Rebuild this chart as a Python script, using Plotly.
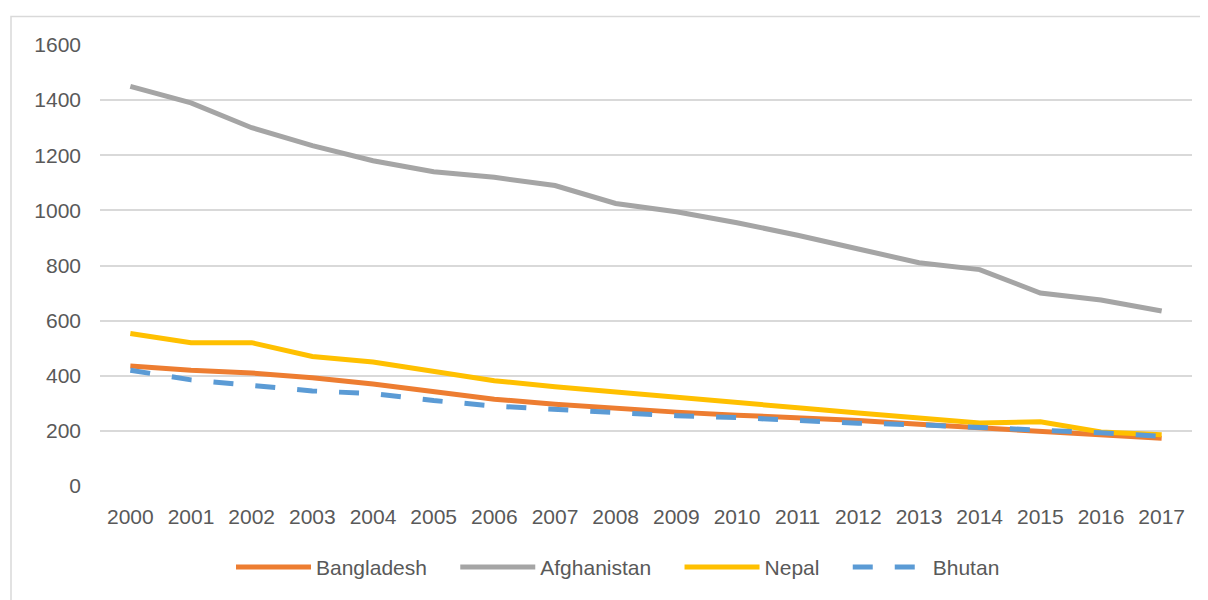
import plotly.graph_objects as go

years = [str(y) for y in range(2000, 2018)]
bangladesh = [435, 420, 410, 393, 370, 342, 315, 297, 282, 268, 257, 249, 238, 224, 211, 200, 186, 173]
afghanistan = [1450, 1390, 1300, 1235, 1180, 1140, 1120, 1090, 1025, 995, 955, 910, 860, 810, 785, 700, 675, 635]
nepal = [553, 520, 520, 470, 450, 418, 382, 360, 342, 320, 302, 284, 265, 247, 229, 233, 196, 186]
bhutan = [420, 385, 365, 345, 335, 310, 290, 278, 265, 255, 248, 237, 228, 222, 213, 203, 193, 180]
y_ticks = [0, 200, 400, 600, 800, 1000, 1200, 1400, 1600]

FONT = "Liberation Sans, Arial, sans-serif"
FS = 21
TXT = "#595959"
PAD = "\u00a0" * 4

fig = go.Figure()
series = [
    ("Bangladesh", bangladesh, "#ED7D31", "solid", PAD),
    ("Afghanistan", afghanistan, "#A5A5A5", "solid", PAD),
    ("Nepal", nepal, "#FFC000", "solid", PAD),
    ("Bhutan", bhutan, "#5B9BD5", "20px,22px", ""),
]
for name, vals, color, dash, pad in series:
    fig.add_trace(go.Scatter(
        x=years, y=vals, name=name + pad, mode="lines",
        line=dict(color=color, width=5, dash=dash),
    ))

# page has an 8px body offset; figure coordinates below are page coords minus 8
OFF = 8
W, H = 1200, 592
L, T = 100 - OFF, 45 - OFF
R = W - (1192 - OFF)
B = H - (485 - OFF) - 9
pw, ph = W - L - R, H - T - B

def px_to_paper_x(p):
    return (p - OFF - L) / pw

def px_to_paper_y(p):
    return (H - B - (p - OFF)) / ph

fig.add_shape(type="rect", xref="paper", yref="paper",
              x0=px_to_paper_x(11), x1=px_to_paper_x(1240),
              y0=px_to_paper_y(660), y1=px_to_paper_y(16),
              line=dict(color="#D9D9D9", width=1.5), fillcolor="rgba(0,0,0,0)", layer="below")

fig.update_layout(
    width=W, height=H,
    margin=dict(l=L, r=R, t=T, b=B),
    paper_bgcolor="white", plot_bgcolor="white",
    font=dict(family=FONT, size=FS, color=TXT),
    showlegend=True,
    legend=dict(orientation="h", x=px_to_paper_x(618), xanchor="center",
                y=px_to_paper_y(556), yanchor="top",
                font=dict(family=FONT, size=FS, color=TXT),
                itemwidth=75, traceorder="normal"),
    xaxis=dict(type="category", range=[-0.5, 17.5], showgrid=False, zeroline=False,
               showline=False, ticks="", tickfont=dict(size=FS, color=TXT),
               ticklabelstandoff=16),
    yaxis=dict(range=[0, 1600], tickvals=y_ticks, showgrid=True, gridcolor="#D9D9D9",
               gridwidth=1.5, zeroline=False, showline=False, ticks="",
               tickfont=dict(size=FS, color=TXT), ticklabelstandoff=18),
)

fig.write_html("out.html")
